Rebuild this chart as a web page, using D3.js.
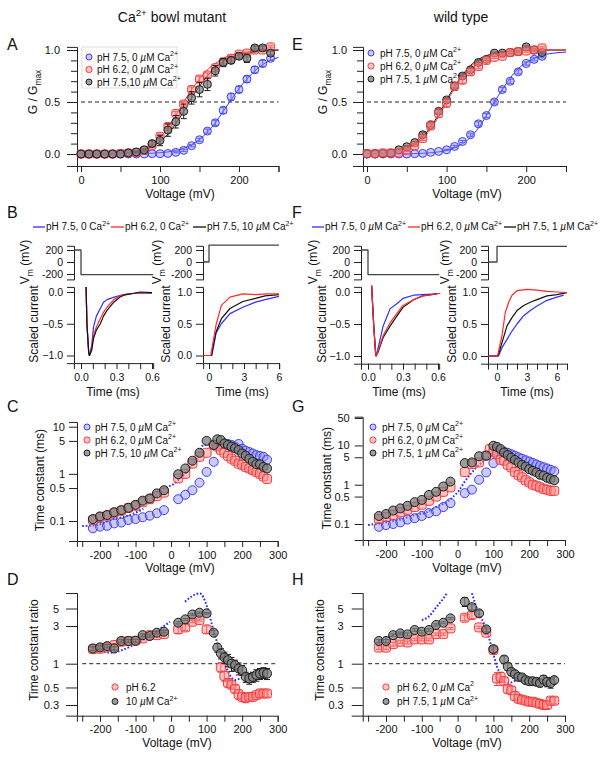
<!DOCTYPE html>
<html><head><meta charset="utf-8">
<script src="https://cdn.jsdelivr.net/npm/d3@7"></script>
<style>
body{margin:0;background:#fff}
svg{display:block}
text{font-family:"Liberation Sans",Arial,Helvetica,sans-serif;fill:#111}
</style></head><body>
<script>
// ---------------- DATA ----------------
// Panel A (Ca2+ bowl mutant) G/Gmax vs voltage
const voltsA = [0,10,20,30,40,50,60,70,80,90,100,110,120,130,140,150,160,170,180,190,200,210,220,230,240];
const gBlueA  = [0,0,0,0,0,0,0,0,0,0.003,0.003,0.005,0.016,0.035,0.08,0.137,0.22,0.3,0.42,0.55,0.62,0.72,0.81,0.87,0.92];
const gRedA   = [0,0,0,0,0,0.005,0.01,0.015,0.035,0.083,0.17,0.265,0.39,0.48,0.62,0.72,0.76,0.83,0.885,0.92,0.96,0.97,1.0,1.0,1.03];
const gBlackA = [0,0,0,0,0,0,0.01,0.02,0.04,0.1,0.13,0.23,0.31,0.41,0.54,0.62,0.67,0.8,0.88,0.9,0.94,0.92,1.02,1.02,0.97];
const eBlueA  = [0,0,0,0,0,0,0,0,0,0,0,0,0.005,0.01,0.01,0.015,0.02,0.025,0.03,0.03,0.03,0.03,0.03,0.03,0.02];
const eRedA   = [0,0,0,0,0,0,0,0,0.005,0.01,0.02,0.02,0.02,0.02,0.025,0.025,0.02,0.02,0.02,0.02,0.015,0.01,0.01,0.01,0.01];
const eBlackA = [0,0,0,0,0,0,0,0.005,0.01,0.03,0.05,0.06,0.06,0.07,0.06,0.07,0.06,0.05,0.04,0.03,0.03,0.04,0.02,0.02,0.02];
const fitVA      = [0,20,40,60,80,100,110,120,130,140,150,160,170,180,190,200,210,220,230,240,250];
const fitBlueA   = [0,0,0.0005,0.002,0.005,0.012,0.02,0.035,0.055,0.09,0.14,0.21,0.3,0.41,0.52,0.63,0.72,0.8,0.86,0.9,0.93];
const fitRedA    = [0,0.002,0.005,0.015,0.05,0.16,0.25,0.37,0.5,0.62,0.72,0.81,0.87,0.92,0.95,0.97,0.98,0.99,0.995,1.0,1.0];
const fitBlackA  = [0,0.001,0.004,0.012,0.04,0.12,0.19,0.29,0.41,0.54,0.65,0.75,0.83,0.89,0.93,0.955,0.97,0.98,0.99,0.995,1.0];

// Panel E (wild type)
const voltsE = [0,10,20,30,40,50,60,70,80,90,100,110,120,130,140,150,160,170,180,190,200,210,220];
const gBlueE  = [0,0,0,0,0,0,0.003,0.006,0.016,0.025,0.04,0.073,0.12,0.185,0.29,0.37,0.5,0.62,0.7,0.79,0.87,0.91,0.94];
const gRedE   = [0.005,0.005,0.01,0.01,0.01,0.035,0.08,0.15,0.27,0.39,0.49,0.65,0.71,0.79,0.84,0.9,0.93,0.94,0.975,0.985,0.99,1.0,1.02];
const gBlackE = [0,0,0.005,0.01,0.04,0.07,0.11,0.185,0.28,0.41,0.52,0.655,0.75,0.81,0.88,0.91,0.97,0.97,0.975,0.985,1.03,1.0,0.975];
const eBlueE  = [0,0,0,0,0,0,0,0,0,0,0.005,0.01,0.01,0.015,0.02,0.02,0.02,0.02,0.02,0.02,0.015,0.015,0.015];
const eRedE   = [0,0,0,0,0,0.01,0.01,0.02,0.03,0.04,0.04,0.04,0.03,0.03,0.02,0.02,0.01,0.01,0.01,0.01,0.01,0.01,0.01];
const eBlackE = [0,0,0,0,0,0.01,0.01,0.02,0.02,0.02,0.02,0.02,0.02,0.02,0.02,0.01,0.01,0.01,0.01,0.01,0.01,0.01,0.01];
const fitVE      = [0,20,40,60,80,90,100,110,120,130,140,150,160,170,180,190,200,210,220,230,240,250];
const fitBlueE   = [0,0,0.002,0.004,0.012,0.02,0.035,0.06,0.1,0.16,0.25,0.37,0.5,0.62,0.73,0.82,0.88,0.92,0.95,0.965,0.975,0.98];
const fitRedE    = [0.003,0.01,0.03,0.09,0.24,0.36,0.5,0.63,0.75,0.84,0.9,0.94,0.965,0.98,0.988,0.993,0.996,0.998,1,1,1,1];
const fitBlackE  = [0.004,0.012,0.035,0.1,0.26,0.38,0.52,0.65,0.76,0.85,0.91,0.945,0.968,0.98,0.988,0.993,0.996,0.998,1,1,1,1];

// Panels B / F : voltage protocols [time ms, mV]
const vmBL = [[-0.06,200],[0,200],[0,-210],[0.61,-210]];
const vmBR = [[-0.5,0],[0,0],[0,280],[6,280]];
const vmFL = [[-0.06,200],[0,200],[0,-210],[0.61,-210]];
const vmFR = [[-0.9,0],[0,0],[0,260],[7,260]];
// scaled currents [time ms, value]
const iBL_blue  = [[0.043,0.08],[0.05,-0.5],[0.065,-0.95],[0.071,-1.0],[0.09,-0.85],[0.106,-0.55],[0.13,-0.38],[0.163,-0.26],[0.19,-0.16],[0.22,-0.12],[0.28,-0.08],[0.36,-0.04],[0.45,-0.02],[0.6,-0.02]];
const iBL_red   = [[0.043,0.08],[0.05,-0.5],[0.065,-0.95],[0.071,-1.0],[0.09,-0.9],[0.106,-0.68],[0.13,-0.55],[0.163,-0.42],[0.19,-0.32],[0.22,-0.24],[0.277,-0.12],[0.33,-0.06],[0.36,-0.04],[0.45,-0.02],[0.6,-0.01]];
const iBL_black = [[0.043,0.08],[0.05,-0.5],[0.065,-0.95],[0.071,-1.0],[0.09,-0.92],[0.106,-0.73],[0.13,-0.6],[0.163,-0.5],[0.19,-0.38],[0.22,-0.29],[0.277,-0.16],[0.33,-0.08],[0.363,-0.05],[0.45,-0.02],[0.5,0.0],[0.6,-0.01]];
const iBR_blue  = [[-0.5,0],[0.25,0],[0.6,0.35],[1.06,0.5],[1.8,0.66],[2.9,0.76],[4,0.84],[4.8,0.88],[6,0.93]];
const iBR_red   = [[-0.5,0],[0.15,0],[0.6,0.48],[1.06,0.79],[1.8,0.92],[2.9,0.97],[4,0.96],[5,0.97],[6,0.97]];
const iBR_black = [[-0.5,0],[0.2,0],[0.6,0.37],[1.06,0.58],[1.8,0.74],[2.9,0.85],[4,0.9],[4.8,0.94],[6,0.96]];
const iFL_blue  = [[0.031,0.1],[0.05,-0.55],[0.065,-0.95],[0.07,-1.0],[0.09,-0.85],[0.13,-0.53],[0.19,-0.26],[0.25,-0.18],[0.3,-0.1],[0.39,-0.05],[0.47,-0.04],[0.59,-0.03]];
const iFL_black = [[0.031,0.1],[0.05,-0.55],[0.065,-0.95],[0.07,-1.0],[0.09,-0.92],[0.13,-0.71],[0.19,-0.53],[0.25,-0.37],[0.3,-0.24],[0.39,-0.12],[0.47,-0.06],[0.59,-0.03]];
const iFL_red   = [[0.031,0.1],[0.05,-0.55],[0.065,-0.95],[0.07,-1.0],[0.09,-0.9],[0.13,-0.68],[0.19,-0.48],[0.25,-0.33],[0.3,-0.21],[0.39,-0.12],[0.47,-0.06],[0.59,-0.03],[0.62,-0.02]];
const iFR_blue  = [[-0.9,0],[0.15,0],[0.5,0.13],[1,0.26],[1.5,0.39],[2,0.5],[2.67,0.63],[3.33,0.71],[4,0.78],[5,0.87],[6,0.92],[6.67,0.95]];
const iFR_black = [[-0.9,0],[0.1,0],[0.5,0.21],[1,0.47],[1.5,0.6],[2,0.71],[2.67,0.79],[3.33,0.84],[4,0.88],[5,0.94],[6,0.96],[7,0.99]];
const iFR_red   = [[-0.9,0],[0.05,0],[0.5,0.32],[0.83,0.68],[1.17,0.84],[1.5,0.95],[2,1.02],[3,1.04],[4,1.03],[5,1.01],[6,1.0],[7,0.99]];

// Panel C / D (mutant) time constants and ratios
const voltsC = [-220,-200,-180,-160,-140,-120,-100,-80,-60,-40,-20,20,40,60,80,100,120,130,140,150,160,170,180,190,200,210,220,230,240,250,260,270];
const tauBlueC  = [0.07,0.076,0.079,0.089,0.093,0.105,0.11,0.12,0.13,0.146,0.17,0.29,0.36,0.45,0.65,1.1,1.8,4.0,4.3,4.4,4.3,4.1,3.8,4.3,3.4,3.1,2.9,2.7,2.5,2.4,2.3,2.0];
const tauRedC   = [0.105,0.12,0.13,0.15,0.165,0.19,0.21,0.25,0.29,0.34,0.4,0.8,1.0,1.65,2.3,2.8,4.1,3.8,3.2,2.8,2.4,2.1,1.9,1.65,1.55,1.4,1.3,1.2,1.1,1.0,0.88,0.78];
const tauBlackC = [0.11,0.125,0.134,0.153,0.17,0.19,0.22,0.27,0.3,0.385,0.45,0.98,1.3,1.9,2.8,5.0,4.1,5.4,5.2,4.4,4.1,3.8,3.5,3.2,2.7,2.43,2.1,1.8,1.6,1.6,1.4,1.3];
const refC1 = [[-250,0.078],[-200,0.085],[-171,0.105],[-120,0.13],[-78,0.18]];
const refC2 = [[-68,0.33],[-40,0.42],[-20,0.5],[6,0.6],[25,0.8],[44,1.1],[60,1.6],[72,2.1],[91,4.1],[105,4.3],[119,4.1],[140,3.7],[156,3.2],[180,2.9],[200,2.6]];
const ratioRedD   = [1.53,1.55,1.61,1.72,1.9,1.94,1.95,2.09,2.3,2.3,2.37,2.72,2.88,3.4,3.57,2.72,null,null,0.9,0.7,0.57,0.54,0.48,0.41,0.38,0.37,0.38,0.38,0.4,0.42,0.42,0.42];
const ratioBlackD = [1.56,1.61,1.67,1.56,1.94,1.94,1.95,2.3,2.24,2.47,2.54,3.3,3.64,4.2,4.42,4.34,2.47,1.6,1.35,1.2,1.11,1.0,0.96,0.87,0.83,0.68,0.65,0.68,0.72,0.75,0.77,0.75];
const errRedD   = [0.08,0.08,0.08,0.08,0.08,0.08,0.08,0.08,0.08,0.08,0.08,0.3,0.25,0.1,0.1,0.3,null,null,0.12,0.1,0.06,0.05,0.05,0.06,0.05,0.05,0.03,0.03,0.03,0.04,0.04,0.04];
const errBlackD = [0.08,0.08,0.08,0.08,0.08,0.08,0.08,0.08,0.08,0.08,0.08,0.1,0.1,0.1,0.1,0.1,0.15,0.2,0.2,0.2,0.2,0.2,0.15,0.15,0.12,0.1,0.1,0.1,0.12,0.12,0.12,0.12];
const refD1 = [[-208,1.49],[-171,1.38],[-106,1.72],[-50,2.42],[-3,3.4]];
const refD2 = [[39,6.1],[81,7.77],[100,5.5],[119,2.67],[133,1.67],[147,1.11],[165,0.72],[179,0.62],[193,0.65]];

// Panel G / H (wild type)
const voltsG = [-220,-200,-180,-160,-140,-120,-100,-80,-60,-40,-20,20,40,60,80,90,100,110,120,130,140,150,160,170,180,190,200,210,220,230,240,250,260,270];
const tauBlueG  = [0.085,0.094,0.1,0.11,0.13,0.14,0.16,0.19,0.21,0.27,0.34,0.61,0.75,1.34,2.06,null,3.55,6.0,7.2,6.9,6.5,6.0,5.5,5.0,4.6,4.2,3.9,3.6,3.3,3.0,2.8,2.6,2.4,2.2];
const tauRedG   = [0.134,0.15,0.17,0.2,0.23,0.27,0.31,0.39,0.5,0.66,0.86,2.1,3.35,3.7,5.5,8.1,6.9,6.0,4.3,4.1,3.2,2.76,2.1,1.76,1.54,1.3,1.15,1.0,0.94,0.86,0.78,0.75,0.7,0.7];
const tauBlackG = [0.16,0.18,0.22,0.25,0.29,0.36,0.41,0.55,0.66,0.9,1.2,3.55,3.7,5.3,5.5,null,9.8,9.2,8.1,6.6,5.7,4.9,4.3,3.7,3.2,2.9,2.5,2.27,2.06,1.8,1.7,1.5,1.4,1.3];
const refG1 = [[-250,0.094],[-200,0.11],[-161,0.129],[-120,0.17],[-86,0.2],[-60,0.27],[-30,0.37],[3,0.7],[20,1.2],[36,1.87],[52,2.7],[68,3.7],[85,5.0],[96,6.0],[110,5.9],[120,5.5],[140,4.8],[157,4.1]];
const voltsH = [-220,-200,-180,-160,-140,-120,-100,-80,-60,-40,-20,20,40,60,80,100,110,120,130,140,150,160,170,180,190,200,210,220,230,240,250,260,270];
const ratioRedH   = [1.6,1.6,1.77,1.9,1.86,2.03,2.03,2.03,2.37,2.37,2.8,3.82,4.13,2.88,2.47,1.49,0.65,0.68,0.6,0.48,0.46,0.39,0.36,0.35,0.34,0.33,0.33,0.32,0.31,0.3,0.3,0.34,0.34];
const ratioBlackH = [1.94,1.94,2.3,2.42,2.35,2.67,2.54,2.67,3.1,3.3,3.75,6.1,5.2,4.34,2.72,1.53,null,null,1.13,0.92,0.79,0.74,0.68,0.67,0.62,0.6,0.6,0.59,0.57,0.63,0.59,0.57,0.62];
const errRedH   = [0.08,0.08,0.1,0.08,0.08,0.08,0.08,0.08,0.08,0.08,0.08,0.3,0.4,0.1,0.1,0.1,0.12,0.1,0.06,0.06,0.05,0.05,0.04,0.03,0.03,0.03,0.03,0.03,0.03,0.03,0.03,0.03,0.03];
const errBlackH = [0.08,0.08,0.08,0.1,0.1,0.1,0.1,0.1,0.1,0.1,0.1,0.8,0.4,0.4,0.2,0.15,null,null,0.12,0.1,0.08,0.08,0.06,0.06,0.06,0.06,0.06,0.06,0.06,0.08,0.08,0.08,0.06];
const refH1 = [[-221,1.94],[-181,2.3],[-151,2.47]];
const refH2 = [[-100,3.57],[-81,3.94],[-58,5.3],[-40,6.7],[-30,7.8]];
const refH3 = [[40,7.8],[59,4.34],[78,2.94],[96,1.56],[110,0.92],[120,0.72],[129,0.59],[143,0.57],[166,0.62],[194,0.65],[222,0.62],[250,0.6]];

// tick values
const ticksG01 = [0,0.5,1], minorG01 = [0.1,0.2,0.3,0.4,0.6,0.7,0.8,0.9];
const ticksVoltA = [0,50,100,150,200,250];
const ticksVoltC = [-250,-200,-150,-100,-50,0,50,100,150,200,250,300];
const ticksTauC = [0.1,0.5,1,5,10], ticksTauG = [0.1,0.5,1,5,10,50], ticksRatio = [0.3,0.5,1,3,5];

// ---------------- DRAWING ----------------
const svg = d3.select("body").append("svg").attr("width",604).attr("height",758);
const ST = {
  blue:  {stroke:"#3d3df2", fill:"rgba(140,140,255,0.45)", shape:"circle"},
  red:   {stroke:"#f23a3a", fill:"rgba(255,140,140,0.5)", shape:"square"},
  black: {stroke:"#1c1c1c", fill:"rgba(125,125,125,0.75)", shape:"circle"}
};
const LINE = {blue:"#2f2fff", red:"#ff2a2a", black:"#111"};

function lin(d0,d1,r0,r1,e0,e1){const s=d3.scaleLinear([d0,d1],[r0,r1]);return d3.scaleLinear([e0,e1],[s(e0),s(e1)]);}
function lg(d0,d1,r0,r1,e0,e1){const s=d3.scaleLog([d0,d1],[r0,r1]);return d3.scaleLog([e0,e1],[s(e0),s(e1)]);}

function rich(sel,str,size){
  const parts = str.split(/(\^\{[^}]*\}|_\{[^}]*\}|µ)/).filter(s=>s!=="");
  let shift=0;
  parts.forEach(p=>{
    let txt=p, fs=size, dy=0, it=false;
    if(p.startsWith("^{")){txt=p.slice(2,-1);fs=size*0.7;dy=-size*0.42;}
    else if(p.startsWith("_{")){txt=p.slice(2,-1);fs=size*0.7;dy=size*0.28;}
    else if(p==="µ"){it=true;}
    const t=sel.append("tspan").text(txt).attr("font-size",fs);
    if(dy-shift!==0) t.attr("dy",dy-shift);
    shift=dy;
    if(it) t.attr("font-style","italic");
  });
  return sel;
}
function label(x,y,str,size,anchor,rot){
  const t=svg.append("text").attr("text-anchor",anchor||"start").attr("font-size",size);
  if(rot){t.attr("transform",`translate(${x},${y}) rotate(-90)`).attr("dy","0.35em");}
  else t.attr("x",x).attr("y",y);
  rich(t,str,size); return t;
}
function styleAxis(g,fs){
  g.attr("font-size",null).attr("font-family",null);
  g.selectAll("path,line").attr("stroke","#222").attr("stroke-width",1);
  g.selectAll("text").attr("fill","#111").attr("font-size",fs||11);
}
function axisY(scale,x,vals,fmt,o={}){
  const g=svg.append("g").attr("transform",`translate(${x},0)`);
  g.call(d3.axisLeft(scale).tickValues(vals).tickFormat(fmt).tickSizeOuter(0).tickSize(o.len||7).tickPadding(o.pad||4));
  if(o.minor){const m=g.append("g").call(d3.axisLeft(scale).tickValues(o.minor).tickFormat("").tickSize(o.mlen||5));m.select(".domain").remove();}
  styleAxis(g,o.fs); return g;
}
function axisX(scale,y,vals,fmt,o={}){
  const g=svg.append("g").attr("transform",`translate(0,${y})`);
  g.call(d3.axisBottom(scale).tickValues(vals).tickFormat(fmt).tickSizeOuter(0).tickSize(o.len||6).tickPadding(o.pad||4));
  styleAxis(g,o.fs); return g;
}
function markers(xs,ys,errs,x,y,st,r){
  const g=svg.append("g");
  const pts=xs.map((v,i)=>({v,y:ys[i],e:errs?errs[i]:0})).filter(d=>d.y!=null);
  g.selectAll("path").data(pts.filter(d=>d.e>0)).join("path")
    .attr("d",d=>{const X=x(d.v),a=y(d.y+d.e),b=y(Math.max(d.y-d.e,1e-4));return `M${X-3},${a}H${X+3}M${X},${a}V${b}M${X-3},${b}H${X+3}`;})
    .attr("stroke",st.stroke).attr("fill","none").attr("stroke-width",1);
  if(st.shape==="square"){
    g.selectAll("rect").data(pts).join("rect")
      .attr("x",d=>x(d.v)-r).attr("y",d=>y(d.y)-r).attr("width",2*r).attr("height",2*r).attr("rx",r*0.55)
      .attr("fill",st.fill).attr("stroke",st.stroke).attr("stroke-width",1);
  } else {
    g.selectAll("circle").data(pts).join("circle")
      .attr("cx",d=>x(d.v)).attr("cy",d=>y(d.y)).attr("r",r)
      .attr("fill",st.fill).attr("stroke",st.stroke).attr("stroke-width",1);
  }
}
function curve(xs,ys,x,y,color,w){
  const pts=xs.map((v,i)=>[v,ys[i]]);
  svg.append("path").attr("d",d3.line().x(d=>x(d[0])).y(d=>y(d[1])).curve(d3.curveMonotoneX)(pts))
    .attr("fill","none").attr("stroke",color).attr("stroke-width",w||1);
}
function trace(pts,x,y,color,w){
  svg.append("path").attr("d",d3.line().x(d=>x(d[0])).y(d=>y(d[1]))(pts))
    .attr("fill","none").attr("stroke",color).attr("stroke-width",w||1.2).attr("stroke-linejoin","round");
}
function dotted(pts,x,y){
  svg.append("path").attr("d",d3.line().x(d=>x(d[0])).y(d=>y(d[1])).curve(d3.curveMonotoneX)(pts))
    .attr("fill","none").attr("stroke","#2f2fff").attr("stroke-width",2).attr("stroke-dasharray","1.7,1.8");
}
function legendRow(mx,tx,y,st,str){
  if(st.shape==="square"){
    svg.append("rect").attr("x",mx-3).attr("y",y-3).attr("width",6).attr("height",6).attr("rx",2.6)
      .attr("fill",st.fill).attr("stroke",st.stroke);
  } else svg.append("circle").attr("cx",mx).attr("cy",y).attr("r",3).attr("fill",st.fill).attr("stroke",st.stroke);
  label(tx,y+3.6,str,10);
}
function hline(x0,x1,y){
  svg.append("line").attr("x1",x0).attr("x2",x1).attr("y1",y).attr("y2",y)
    .attr("stroke","#222").attr("stroke-dasharray","4,3").attr("stroke-width",1);
}
const f1=d3.format(".1f");
const fmtHund=d=>d%100===0?d:"";
const fmtLog=d=>String(d);

// titles & panel letters
label(172,22,"Ca^{2+} bowl mutant",14,"middle");
label(461,22,"wild type",14,"middle");
[["A",7,50],["E",292,50],["B",7,218],["F",292,218],["C",7,412],["G",292,412],["D",7,585],["H",292,585]]
  .forEach(([s,x,y])=>label(x,y,s,16));

// ---------- Panel A ----------
{
  const x=lin(0,250,81,278.5,-5,250), y=lin(0,1,154,50,-0.115,1.03);
  axisY(y,77,ticksG01,f1,{len:10,pad:7,minor:minorG01,mlen:6});
  axisX(x,166,ticksVoltA,fmtHund);
  hline(x(0),x(250),y(0.5));
  curve(fitVA,fitBlueA,x,y,LINE.blue);
  curve(fitVA,fitRedA,x,y,LINE.red);
  curve(fitVA,fitBlackA,x,y,LINE.black);
  markers(voltsA,gBlueA,eBlueA,x,y,ST.blue,4);
  markers(voltsA,gRedA,eRedA,x,y,ST.red,4);
  markers(voltsA,gBlackA,eBlackA,x,y,ST.black,4);
  svg.append("rect").attr("x",82).attr("y",47).attr("width",95).attr("height",41).attr("fill","none").attr("stroke","#c8c8c8").attr("stroke-width",0.6);
  legendRow(89,97,57,ST.blue,"pH 7.5, 0 µM Ca^{2+}");
  legendRow(89,97,69.5,ST.red,"pH 6.2, 0 µM Ca^{2+}");
  legendRow(89,97,82,ST.black,"pH 7.5,10 µM Ca^{2+}");
  label(33,92,"G / G_{max}",12,"middle",true);
  label(180,198,"Voltage (mV)",12,"middle");
}
// ---------- Panel E ----------
{
  const x=lin(0,250,367,566,-5,250), y=lin(0,1,154,50,-0.115,1.03);
  axisY(y,363,ticksG01,f1,{len:10,pad:6,minor:minorG01,mlen:6});
  axisX(x,166,ticksVoltA,fmtHund);
  hline(x(0),x(250),y(0.5));
  curve(fitVE,fitBlueE,x,y,LINE.blue);
  curve(fitVE,fitBlackE,x,y,LINE.black);
  curve(fitVE,fitRedE,x,y,LINE.red);
  markers(voltsE,gBlueE,eBlueE,x,y,ST.blue,4);
  markers(voltsE,gBlackE,eBlackE,x,y,ST.black,4);
  markers(voltsE,gRedE,eRedE,x,y,ST.red,4);
  legendRow(371,380,53,ST.blue,"pH 7.5, 0 µM Ca^{2+}");
  legendRow(371,380,66,ST.red,"pH 6.2, 0 µM Ca^{2+}");
  legendRow(371,380,79,ST.black,"pH 7.5, 1 µM Ca^{2+}");
  label(323,92,"G / G_{max}",12,"middle",true);
  label(467,198,"Voltage (mV)",12,"middle");
}
// ---------- Panels B & F (traces) ----------
function legendLine(x0,x1,y,color,tx,str,fs){
  svg.append("line").attr("x1",x0).attr("x2",x1).attr("y1",y).attr("y2",y).attr("stroke",color).attr("stroke-width",1.3);
  label(tx,y+3.4,str,fs);
}
legendLine(33,45,227,LINE.blue,46,"pH 7.5, 0 Ca^{2+}",10);
legendLine(111,124,227,LINE.red,125,"pH 6.2, 0 Ca^{2+}",10);
legendLine(193,206,227,LINE.black,207,"pH 7.5, 10 µM Ca^{2+}",10);
legendLine(312,324,227,LINE.blue,325,"pH 7.5, 0 µM Ca^{2+}",10);
legendLine(408,420,227,LINE.red,421,"pH 6.2, 0 µM Ca^{2+}",10);
legendLine(504,516,227,LINE.black,517,"pH 7.5, 1 µM Ca^{2+}",10);

function tracePanel(o){
  const yV=lin(-200,200,274,250,-290,270);
  const yI=o.neg?lin(0,-1,292,o.yMin,0.08,-1.12):lin(1,0,292,o.yMin,1.08,-0.12);
  axisY(yV,o.ax,[-200,0,200],d=>d,{len:7,pad:4,fs:10.5});
  axisY(yI,o.ax,o.neg?[-1,-0.5,0]:[0,0.5,1],f1,{len:7,pad:4,fs:10.5});
  const yBot=Math.max(...yI.range());
  axisX(o.x,yBot,o.tv,o.tf,{fs:10.5});
  trace(o.vm,o.x,yV,"#444",1.3);
  o.tr.forEach(([pts,c])=>trace(pts,o.x,yI,LINE[c],1.2));
  label(o.vmLab,262,"V_{m} (mV)",12,"middle",true);
  label(o.icLab,324,"Scaled current",12,"middle",true);
  label(o.tLab,396,"Time (ms)",12,"middle");
}
const tv06=[0,0.1,0.2,0.3,0.4,0.5,0.6], tf06=d=>(Math.round(d*10)%3===0?f1(d):"");
tracePanel({ax:74,x:lin(0,0.6,81,152,-0.06,0.61),neg:true,yMin:355.5,tv:tv06,tf:tf06,vm:vmBL,
  tr:[[iBL_blue,"blue"],[iBL_red,"red"],[iBL_black,"black"]],vmLab:25,icLab:34,tLab:113});
tracePanel({ax:203,x:lin(0,6,209,279,-0.5,6.02),neg:false,yMin:355.5,tv:[0,1,2,3,4,5,6],tf:d=>d%3===0?d:"",vm:vmBR,
  tr:[[iBR_blue,"blue"],[iBR_black,"black"],[iBR_red,"red"]],vmLab:157,icLab:166,tLab:242});
tracePanel({ax:361,x:lin(0,0.6,368,438,-0.06,0.61),neg:true,yMin:356,tv:tv06,tf:tf06,vm:vmFL,
  tr:[[iFL_blue,"blue"],[iFL_black,"black"],[iFL_red,"red"]],vmLab:313,icLab:322,tLab:399});
tracePanel({ax:488,x:lin(0,7,497,567,-0.9,7),neg:false,yMin:356,tv:[0,1,2,3,4,5,6,7],tf:d=>d%3===0?d:"",vm:vmFR,
  tr:[[iFR_blue,"blue"],[iFR_black,"black"],[iFR_red,"red"]],vmLab:445,icLab:452,tLab:527});

// ---------- Panel C ----------
{
  const x=lin(-200,300,100,277.7,-265,300), y=lg(0.1,10,521,426.7,0.0377,12.6);
  axisY(y,77,ticksTauC,fmtLog,{len:8,pad:4});
  axisX(x,541,ticksVoltC,fmtHund);
  dotted(refC1,x,y); dotted(refC2,x,y);
  markers(voltsC,tauBlueC,null,x,y,ST.blue,4.5);
  markers(voltsC,tauRedC,null,x,y,ST.red,4.5);
  markers(voltsC,tauBlackC,null,x,y,ST.black,4.5);
  legendRow(87,95,427,ST.blue,"pH 7.5, 0 µM Ca^{2+}");
  legendRow(87,95,440,ST.red,"pH 6.2, 0 µM Ca^{2+}");
  legendRow(87,95,453,ST.black,"pH 7.5, 10 µM Ca^{2+}");
  label(40,480,"Time constant (ms)",12,"middle",true);
  label(180,572,"Voltage (mV)",12,"middle");
}
// ---------- Panel G ----------
{
  const x=lin(-200,300,386,565,-265,300), y=lg(0.1,50,524,418,0.039,54);
  axisY(y,362.7,ticksTauG,fmtLog,{len:8,pad:5});
  axisX(x,540,ticksVoltC,fmtHund);
  dotted(refG1,x,y);
  markers(voltsG,tauBlueG,null,x,y,ST.blue,4.5);
  markers(voltsG,tauRedG,null,x,y,ST.red,4.5);
  markers(voltsG,tauBlackG,null,x,y,ST.black,4.5);
  legendRow(373,382,427,ST.blue,"pH 7.5, 0 µM Ca^{2+}");
  legendRow(373,382,440,ST.red,"pH 6.2, 0 µM Ca^{2+}");
  legendRow(373,382,453,ST.black,"pH 7.5, 1 µM Ca^{2+}");
  label(327,478,"Time constant (ms)",12,"middle",true);
  label(467,572,"Voltage (mV)",12,"middle");
}
// ---------- Panel D ----------
{
  const x=lin(-200,300,100,277.7,-265,300), y=lg(1,5,663.7,608.5,0.22,7.85);
  axisY(y,77,ticksRatio,fmtLog,{len:11,pad:7});
  axisX(x,715.7,ticksVoltC,fmtHund);
  hline(x(-250),x(300),y(1));
  dotted(refD1,x,y); dotted(refD2,x,y);
  markers(voltsC,ratioRedD,errRedD,x,y,ST.red,4.5);
  markers(voltsC,ratioBlackD,errBlackD,x,y,ST.black,4.5);
  legendRow(115,126,687,ST.red,"pH 6.2");
  legendRow(115,126,701.5,ST.black,"10 µM Ca^{2+}");
  label(34,650,"Time constant ratio",12,"middle",true);
  label(177,747,"Voltage (mV)",12,"middle");
}
// ---------- Panel H ----------
{
  const x=lin(-200,300,386,565,-265,300), y=lg(1,5,663.7,608.5,0.22,7.85);
  axisY(y,362.7,ticksRatio,fmtLog,{len:11,pad:8});
  axisX(x,715.7,ticksVoltC,fmtHund);
  hline(x(-250),x(300),y(1));
  dotted(refH1,x,y); dotted(refH2,x,y); dotted(refH3,x,y);
  markers(voltsH,ratioRedH,errRedH,x,y,ST.red,4.5);
  markers(voltsH,ratioBlackH,errBlackH,x,y,ST.black,4.5);
  legendRow(386,397,687,ST.red,"pH 6.2, 0 µM Ca^{2}");
  legendRow(386,397,701.5,ST.black,"pH 7.5, 1 µM Ca^{2+}");
  label(320,650,"Time constant ratio",12,"middle",true);
  label(467,747,"Voltage (mV)",12,"middle");
}
</script></body></html>
